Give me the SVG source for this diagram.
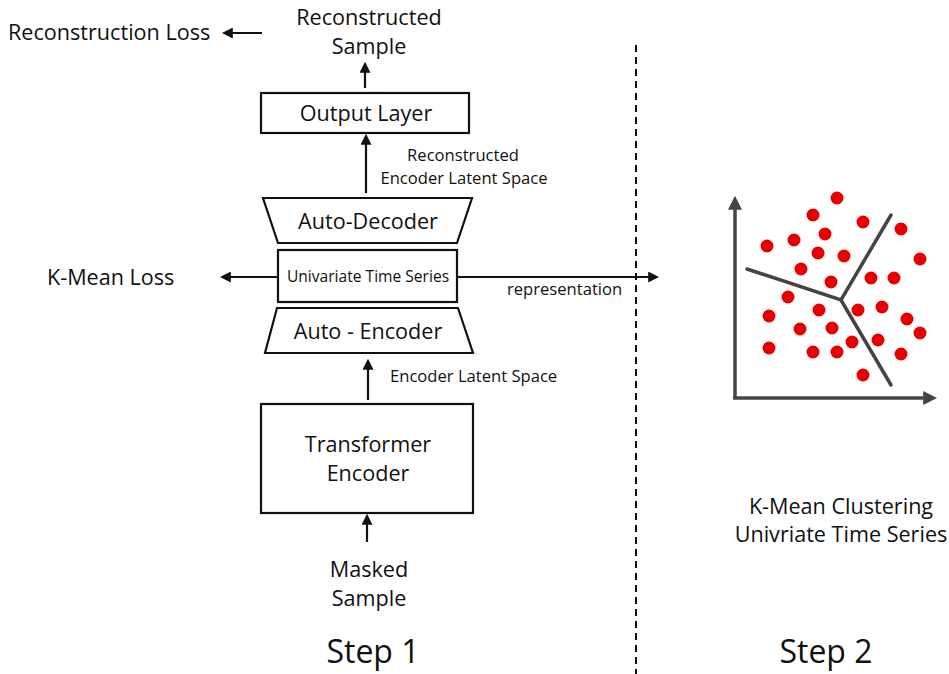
<svg xmlns="http://www.w3.org/2000/svg" width="949" height="674" viewBox="0 0 949 674">
<style>
text{font-family:"Open Sans","Noto Sans","Liberation Sans",sans-serif;fill:#111}
.box{fill:#fff;stroke:#111;stroke-width:2.2}
.ln{stroke:#111;stroke-width:2.2;fill:none}
.t20{font-size:21.6px}
.t15{font-size:16.6px}
.t14{font-size:15.6px}
.t30{font-size:32px}
.dot{fill:#e60000}
.ax{stroke:#444;stroke-width:3.5;fill:none}
.sep{stroke:#444;stroke-width:3.5;fill:none;stroke-linecap:round}
</style>
<defs>
<marker id="ah" viewBox="0 0 10 10" refX="8" refY="5" markerWidth="5" markerHeight="5" orient="auto" markerUnits="strokeWidth">
<path d="M0,0 L10,5 L0,10 z" fill="#111"/>
</marker>
<marker id="ahg" viewBox="0 0 10 10" refX="7" refY="5" markerWidth="4" markerHeight="4" orient="auto" markerUnits="strokeWidth">
<path d="M0,0 L10,5 L0,10 z" fill="#444"/>
</marker>
</defs>
<rect width="949" height="674" fill="#fff"/>

<g id="connectors">
<line class="ln" x1="365" y1="88" x2="365" y2="64" marker-end="url(#ah)"/>
<line class="ln" x1="366" y1="193" x2="366" y2="136" marker-end="url(#ah)"/>
<line class="ln" x1="262" y1="33" x2="224" y2="33" marker-end="url(#ah)"/>
<line class="ln" x1="278" y1="277" x2="222" y2="277" marker-end="url(#ah)"/>
<line class="ln" x1="457" y1="277" x2="657" y2="277" marker-end="url(#ah)"/>
<line class="ln" x1="368" y1="400" x2="368" y2="361" marker-end="url(#ah)"/>
<line class="ln" x1="367" y1="542" x2="367" y2="516" marker-end="url(#ah)"/>
<line x1="636" y1="45" x2="636" y2="674" stroke="#111" stroke-width="2" stroke-dasharray="7,5"/>
</g>

<g id="reconstruction-loss"><text class="t20" x="8" y="40">Reconstruction Loss</text></g>
<g id="reconstructed-sample"><text class="t20" x="369" y="25" text-anchor="middle">Reconstructed</text><text class="t20" x="369" y="54" text-anchor="middle">Sample</text></g>
<g id="output-layer"><rect class="box" x="261" y="93" width="208" height="40"/><text class="t20" x="366" y="121" text-anchor="middle">Output Layer</text></g>
<g id="recon-latent-label"><text class="t15" x="463" y="161" text-anchor="middle">Reconstructed</text><text class="t15" x="464" y="184" text-anchor="middle">Encoder Latent Space</text></g>
<g id="auto-decoder"><polygon class="box" points="263,198 472,198 457,243 278,243"/><text class="t20" x="368" y="229" text-anchor="middle">Auto-Decoder</text></g>
<g id="univariate"><rect class="box" x="278" y="250" width="179" height="52"/><text class="t14" x="368" y="282" text-anchor="middle">Univariate Time Series</text></g>
<g id="auto-encoder"><polygon class="box" points="277,308 458,308 473,353 265,353"/><text class="t20" x="368" y="339" text-anchor="middle">Auto - Encoder</text></g>
<g id="kmean-loss"><text class="t20" x="47" y="285">K-Mean Loss</text></g>
<g id="representation-label"><text class="t15" x="507" y="295">representation</text></g>
<g id="enc-latent-label"><text class="t15" x="390" y="382">Encoder Latent Space</text></g>
<g id="transformer-encoder"><rect class="box" x="261" y="404" width="212" height="109"/><text class="t20" x="368" y="452" text-anchor="middle">Transformer</text><text class="t20" x="368" y="481" text-anchor="middle">Encoder</text></g>
<g id="masked-sample"><text class="t20" x="369" y="577" text-anchor="middle">Masked</text><text class="t20" x="369" y="606" text-anchor="middle">Sample</text></g>
<g id="step1"><text class="t30" x="373" y="663" text-anchor="middle">Step 1</text></g>
<g id="step2"><text class="t30" x="826" y="663" text-anchor="middle">Step 2</text></g>
<g id="kmean-clustering"><text class="t20" x="841" y="514" text-anchor="middle">K-Mean Clustering</text><text class="t20" x="841" y="542" text-anchor="middle">Univriate Time Series</text></g>

<g id="scatter">
<line class="ax" x1="735" y1="398" x2="735" y2="200" marker-end="url(#ahg)"/>
<line class="ax" x1="733" y1="398" x2="933" y2="398" marker-end="url(#ahg)"/>
<polyline class="sep" points="747,269 841,300 891,215"/>
<line class="sep" x1="841" y1="300" x2="891" y2="385"/>
<g class="dot">
<circle cx="837" cy="198" r="6.5"/><circle cx="813" cy="215" r="6.5"/><circle cx="863" cy="222" r="6.5"/><circle cx="901" cy="229" r="6.5"/>
<circle cx="825" cy="234" r="6.5"/><circle cx="794" cy="240" r="6.5"/><circle cx="767" cy="246" r="6.5"/><circle cx="818" cy="253" r="6.5"/>
<circle cx="844" cy="256" r="6.5"/><circle cx="920" cy="259" r="6.5"/><circle cx="801" cy="269" r="6.5"/><circle cx="871" cy="278" r="6.5"/>
<circle cx="894" cy="278" r="6.5"/><circle cx="831" cy="282" r="6.5"/><circle cx="788" cy="297" r="6.5"/><circle cx="819" cy="310" r="6.5"/>
<circle cx="858" cy="310" r="6.5"/><circle cx="882" cy="307" r="6.5"/><circle cx="769" cy="316" r="6.5"/><circle cx="907" cy="319" r="6.5"/>
<circle cx="800" cy="329" r="6.5"/><circle cx="832" cy="328" r="6.5"/><circle cx="920" cy="333" r="6.5"/><circle cx="852" cy="342" r="6.5"/>
<circle cx="878" cy="340" r="6.5"/><circle cx="769" cy="348" r="6.5"/><circle cx="813" cy="352" r="6.5"/><circle cx="837" cy="352" r="6.5"/>
<circle cx="901" cy="354" r="6.5"/><circle cx="863" cy="375" r="6.5"/>
</g>
</g>
</svg>
